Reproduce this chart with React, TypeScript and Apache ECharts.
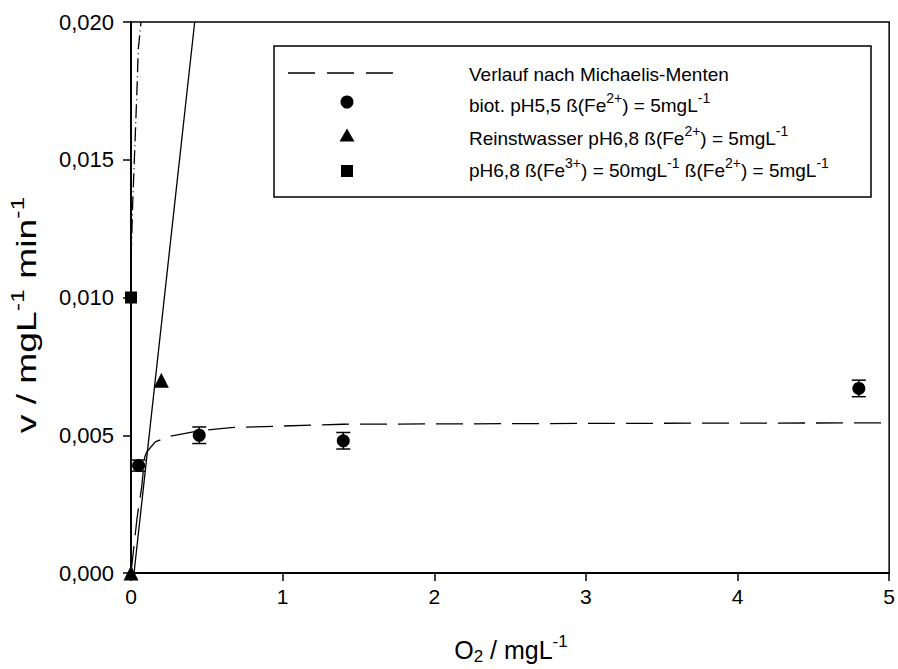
import React, { useEffect, useRef } from 'react';
import * as echarts from 'echarts';

// ---- data ----
const xTicks = [0, 1, 2, 3, 4, 5];
const yTickLabels = ['0,000', '0,005', '0,010', '0,015', '0,020'];

// Michaelis-Menten fit (dashed)
const mmX = [0, 0.04, 0.07, 0.09, 0.105, 0.16, 0.25, 0.45, 0.66, 1.4, 3, 5];
const mmY = [0, 0.002, 0.0031, 0.0042, 0.0044, 0.00476, 0.00496, 0.00516, 0.00528, 0.0054, 0.00543, 0.00545];

// steep solid line
const solidX = [0.02, 0.42];
const solidY = [0, 0.02];

// dash-dot line near the y axis
const dashDotX = [0, 0.005, 0.011, 0.02, 0.031, 0.041, 0.048, 0.066];
const dashDotY = [0.0115, 0.0122, 0.0134, 0.0147, 0.0163, 0.0178, 0.019, 0.02];

// biot. pH5,5
const bioX = [0.05, 0.45, 1.4, 4.8];
const bioY = [0.0039, 0.005, 0.0048, 0.0067];
const bioErr = [0.0002, 0.0003, 0.0003, 0.0003];

// Reinstwasser pH6,8
const pureX = [0, 0.2];
const pureY = [0, 0.007];

// pH6,8 Fe3+
const fe3X = [0];
const fe3Y = [0.01];

const FONT = '"Liberation Sans", Arial, Helvetica, sans-serif';

const zip = (xs: number[], ys: number[]) => xs.map((x, i) => [x, ys[i]]);

export default function App() {
  const ref = useRef<HTMLDivElement>(null);

  useEffect(() => {
    if (!ref.current) return;
    const chart = echarts.init(ref.current, undefined, { renderer: 'svg' });

    const base = { fontSize: 19, fontFamily: FONT, color: '#000', lineHeight: 19 };
    const sup = { fontSize: 14, fontFamily: FONT, color: '#000', lineHeight: 14, padding: [0, 0, 14, 0] };
    const richLegend = { a: base, s: sup };

    const legendX = 469;
    const rowY = [74, 105, 138, 170];
    const symX = 347;

    const titleA = { fontSize: 25, fontFamily: FONT, color: '#000', lineHeight: 25 };
    const titleS = { fontSize: 17, fontFamily: FONT, color: '#000', lineHeight: 17, padding: [0, 0, 18, 0] };
    const titleB = { fontSize: 17, fontFamily: FONT, color: '#000', lineHeight: 17, padding: [13, 0, 0, 0] };
    const yTitleA = { fontSize: 27, fontFamily: FONT, color: '#000', lineHeight: 27 };
    const yTitleS = { fontSize: 18, fontFamily: FONT, color: '#000', lineHeight: 18, padding: [0, 0, 19, 0] };

    const option: any = {
      animation: false,
      backgroundColor: '#fff',
      grid: {
        left: 131,
        top: 22,
        right: 5,
        bottom: 96,
        show: true,
        borderColor: '#000',
        borderWidth: 1.5,
        backgroundColor: 'transparent',
      },
      xAxis: {
        type: 'value',
        min: 0,
        max: 5,
        interval: 1,
        axisLine: { show: true, onZero: false, lineStyle: { color: '#000', width: 1.8 } },
        axisTick: { show: true, inside: false, length: 8, lineStyle: { color: '#000', width: 1.5 } },
        axisLabel: {
          color: '#000',
          fontSize: 21,
          fontFamily: FONT,
          margin: 13,
          formatter: (v: number) => String(xTicks[Math.round(v)]),
        },
        splitLine: { show: false },
      },
      yAxis: {
        type: 'value',
        min: 0,
        max: 0.02,
        interval: 0.005,
        axisLine: { show: true, onZero: false, lineStyle: { color: '#000', width: 1.8 } },
        axisTick: { show: true, inside: false, length: 8, lineStyle: { color: '#000', width: 1.5 } },
        axisLabel: {
          color: '#000',
          fontSize: 22,
          fontFamily: FONT,
          margin: 17,
          formatter: (v: number) => yTickLabels[Math.round(v / 0.005)],
        },
        splitLine: { show: false },
      },
      series: [
        {
          name: 'mm',
          type: 'line',
          data: zip(mmX, mmY),
          symbol: 'none',
          lineStyle: { color: '#000', width: 1.3, type: [27, 11] },
          z: 2,
        },
        {
          name: 'solid',
          type: 'line',
          data: zip(solidX, solidY),
          symbol: 'none',
          lineStyle: { color: '#000', width: 1.3, type: 'solid' },
          z: 2,
        },
        {
          name: 'dashdot',
          type: 'line',
          data: zip(dashDotX, dashDotY),
          symbol: 'none',
          lineStyle: { color: '#000', width: 1.3, type: [14, 4, 1, 4] },
          z: 2,
        },
        {
          name: 'err',
          type: 'custom',
          data: bioX.map((x, i) => [x, bioY[i], bioErr[i]]),
          encode: { x: 0, y: 1 },
          renderItem: (_p: any, api: any) => {
            const x = api.value(0);
            const y = api.value(1);
            const e = api.value(2);
            const t = api.coord([x, y + e]);
            const b = api.coord([x, y - e]);
            const hw = 7;
            const st = { stroke: '#000', lineWidth: 1.5 };
            return {
              type: 'group',
              children: [
                { type: 'line', shape: { x1: t[0], y1: t[1], x2: b[0], y2: b[1] }, style: st },
                { type: 'line', shape: { x1: t[0] - hw, y1: t[1], x2: t[0] + hw, y2: t[1] }, style: st },
                { type: 'line', shape: { x1: b[0] - hw, y1: b[1], x2: b[0] + hw, y2: b[1] }, style: st },
              ],
            };
          },
          z: 3,
        },
        {
          name: 'bio',
          type: 'scatter',
          data: zip(bioX, bioY),
          symbol: 'circle',
          symbolSize: 13,
          itemStyle: { color: '#000', opacity: 1 },
          z: 4,
        },
        {
          name: 'pure',
          type: 'scatter',
          data: zip(pureX, pureY),
          symbol: 'triangle',
          symbolSize: 15,
          itemStyle: { color: '#000', opacity: 1 },
          z: 4,
        },
        {
          name: 'fe3',
          type: 'scatter',
          data: zip(fe3X, fe3Y),
          symbol: 'rect',
          symbolSize: 12,
          itemStyle: { color: '#000', opacity: 1 },
          z: 4,
        },
      ],
      graphic: [
        {
          type: 'rect',
          shape: { x: 274, y: 46, width: 597, height: 151 },
          style: { fill: '#fff', stroke: '#000', lineWidth: 1.5 },
          z: 10,
        },
        {
          type: 'line',
          shape: { x1: 288, y1: 73, x2: 396, y2: 73 },
          style: { stroke: '#000', lineWidth: 1.3, lineDash: [27, 12] },
          z: 11,
        },
        {
          type: 'circle',
          shape: { cx: symX, cy: 102, r: 6.5 },
          style: { fill: '#000' },
          z: 11,
        },
        {
          type: 'polygon',
          shape: { points: [[symX, 128.5], [symX - 7.5, 141.5], [symX + 7.5, 141.5]] },
          style: { fill: '#000' },
          z: 11,
        },
        {
          type: 'rect',
          shape: { x: symX - 6, y: 165, width: 12, height: 12 },
          style: { fill: '#000' },
          z: 11,
        },
        {
          type: 'text',
          x: legendX,
          y: rowY[0],
          style: { text: '{a|Verlauf nach Michaelis-Menten}', rich: richLegend, verticalAlign: 'middle' },
          z: 11,
        },
        {
          type: 'text',
          x: legendX,
          y: rowY[1],
          style: {
            text: '{a|biot. pH5,5 ß(Fe}{s|2+}{a|) = 5mgL}{s|-1}',
            rich: richLegend,
            verticalAlign: 'middle',
          },
          z: 11,
        },
        {
          type: 'text',
          x: legendX,
          y: rowY[2],
          style: {
            text: '{a|Reinstwasser pH6,8 ß(Fe}{s|2+}{a|) = 5mgL}{s|-1}',
            rich: richLegend,
            verticalAlign: 'middle',
          },
          z: 11,
        },
        {
          type: 'text',
          x: legendX,
          y: rowY[3],
          style: {
            text: '{a|pH6,8 ß(Fe}{s|3+}{a|) = 50mgL}{s|-1}{a| ß(Fe}{s|2+}{a|) = 5mgL}{s|-1}',
            rich: richLegend,
            verticalAlign: 'middle',
          },
          z: 11,
        },
        // y axis title (stretched along its direction like in the reference)
        {
          type: 'text',
          x: 27,
          y: 315,
          rotation: Math.PI / 2,
          scaleX: 1.38,
          style: {
            text: '{a|v / mgL}{s|-1}{a| min}{s|-1}',
            rich: { a: yTitleA, s: yTitleS },
            align: 'center',
            verticalAlign: 'middle',
          },
        },
        // x axis title
        {
          type: 'text',
          x: 511,
          y: 650,
          style: {
            text: '{a|O}{b|2}{a| / mgL}{s|-1}',
            rich: { a: titleA, s: titleS, b: titleB },
            align: 'center',
            verticalAlign: 'middle',
          },
        },
      ],
    };

    chart.setOption(option);
    return () => chart.dispose();
  }, []);

  return (
    <div
      ref={ref}
      style={{ position: 'fixed', left: 0, top: 0, width: 898, height: 669, background: '#fff' }}
    />
  );
}
